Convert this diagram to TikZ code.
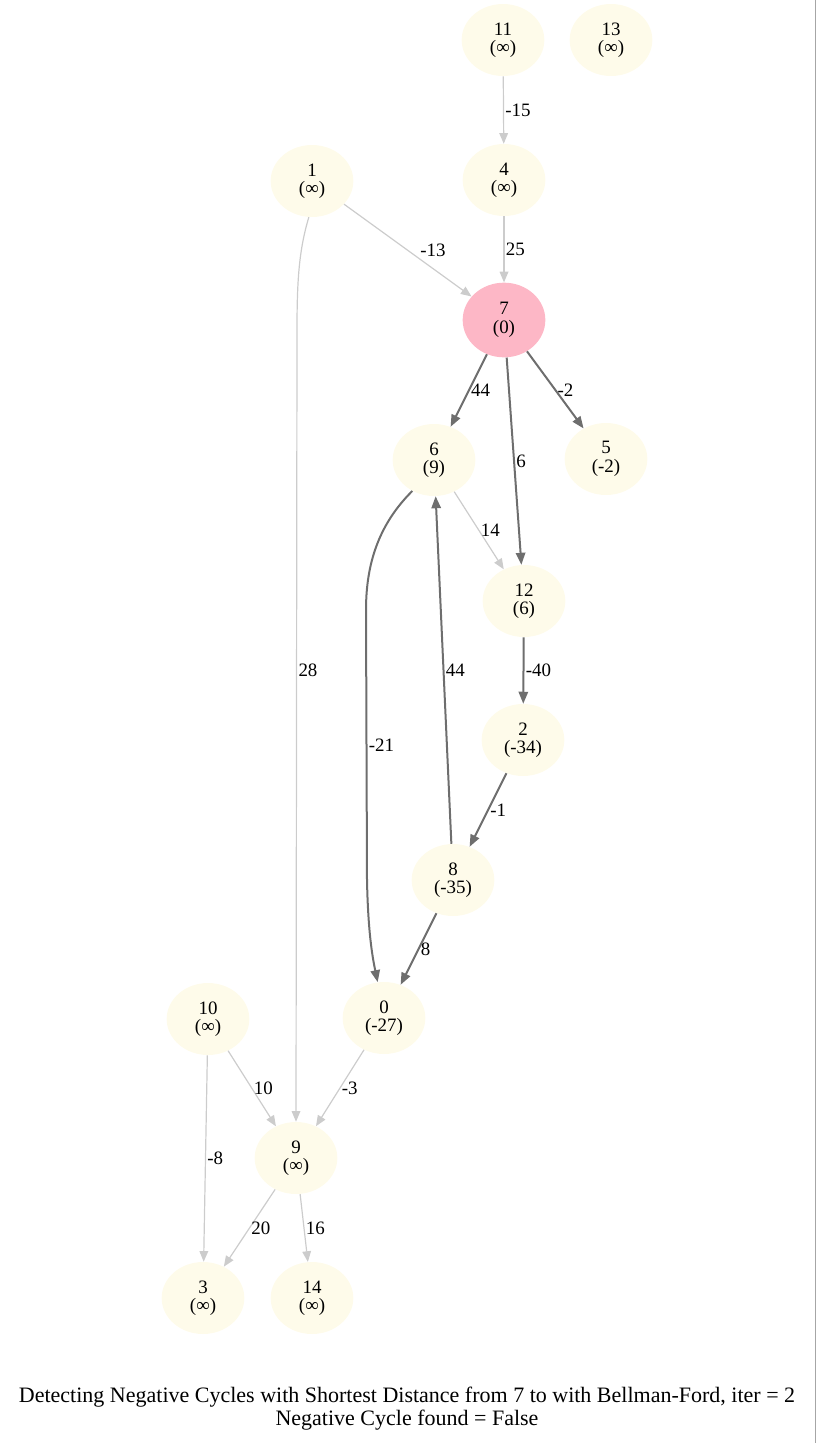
\documentclass[tikz,border=0pt]{standalone}
\usepackage{fontspec}
\setmainfont{Liberation Serif}
\usetikzlibrary{arrows.meta,shapes.geometric}
\definecolor{nodefill}{HTML}{FEFBEA}
\definecolor{srcfill}{HTML}{FDB7C6}
\definecolor{edgeoff}{HTML}{CCCCCC}
\definecolor{edgeon}{HTML}{6E6E6E}
\tikzset{
  vertex/.style={ellipse, fill=nodefill, minimum width=62pt, minimum height=54pt, inner sep=0pt, align=center, font=\fontsize{14.2}{13.8}\selectfont},
  source/.style={vertex, fill=srcfill, minimum height=56pt},
  idle/.style={draw=edgeoff, line width=0.9pt, -{Triangle[length=8pt,width=6.5pt]}},
  relaxed/.style={draw=edgeon, line width=1.5pt, -{Triangle[length=9pt,width=7pt]}},
  weight/.style={midway, right, inner sep=1pt, font=\fontsize{14.2}{13.8}\selectfont}
}
\begin{document}
\begin{tikzpicture}[x=0.75pt, y=-0.75pt]
\useasboundingbox (0,0) rectangle (816,1443);
\node[vertex] (v11) at (503,40) {11\\(∞)};
\node[vertex] (v13) at (611,40) {13\\(∞)};
\node[vertex] (v1) at (312,181) {1\\(∞)};
\node[vertex] (v4) at (504,180) {4\\(∞)};
\node[source] (v7) at (504,320) {7\\(0)};
\node[vertex] (v6) at (434,460) {6\\(9)};
\node[vertex] (v5) at (606,459) {5\\(-2)};
\node[vertex] (v12) at (524,601) {12\\(6)};
\node[vertex] (v2) at (523,740) {2\\(-34)};
\node[vertex] (v8) at (453,880) {8\\(-35)};
\node[vertex] (v0) at (384,1018) {0\\(-27)};
\node[vertex] (v10) at (208,1019) {10\\(∞)};
\node[vertex] (v9) at (296,1158) {9\\(∞)};
\node[vertex] (v3) at (203,1298) {3\\(∞)};
\node[vertex] (v14) at (312,1298) {14\\(∞)};
\draw[idle] (v11) -- node[weight] {-15} (v4);
\draw[idle] (v1) -- node[weight, xshift=8pt] {-13} (v7);
\draw[idle] (v4) -- node[weight] {25} (v7);
\draw[idle] (v1.265) .. controls (299,250) and (297,280) .. (297,330) -- (v9.north) node[weight, pos=0.43] {28};
\draw[relaxed] (v7) -- node[weight] {44} (v6);
\draw[relaxed] (v7) -- node[weight] {6} (v12);
\draw[relaxed] (v7) -- node[weight] {-2} (v5);
\draw[idle] (v6) -- node[weight] {14} (v12);
\draw[relaxed] (v6.235) .. controls (378,525) and (366,565) .. (366,610) -- node[weight] {-21} (367,880) .. controls (368,930) and (372,955) .. (v0.100);
\draw[relaxed] (v12) -- node[weight] {-40} (v2);
\draw[relaxed] (v2) -- node[weight] {-1} (v8);
\draw[relaxed] (v8) -- node[weight] {44} (v6);
\draw[relaxed] (v8) -- node[weight] {8} (v0);
\draw[idle] (v10) -- node[weight] {10} (v9);
\draw[idle] (v0) -- node[weight] {-3} (v9);
\draw[idle] (v10) -- node[weight] {-8} (v3);
\draw[idle] (v9) -- node[weight] {20} (v3);
\draw[idle] (v9) -- node[weight] {16} (v14);
\node[align=center, inner sep=0pt, font=\fontsize{16.5}{17.3}\selectfont] (title) at (407,1409) {Detecting Negative Cycles with Shortest Distance from 7 to with Bellman-Ford, iter = 2\\Negative Cycle found = False};
\draw[gray!70, line width=0.75pt] (815,0) -- (815,1443);
\end{tikzpicture}
\end{document}
